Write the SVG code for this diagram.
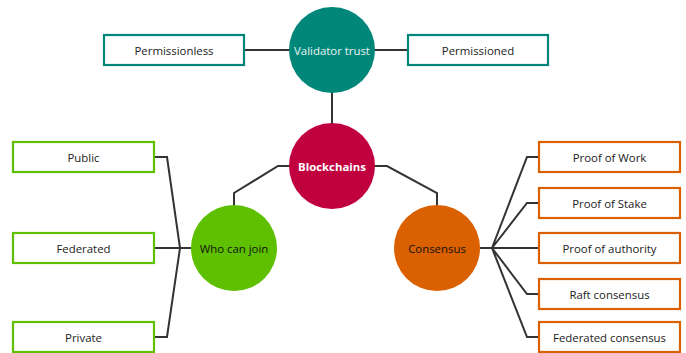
<svg xmlns="http://www.w3.org/2000/svg" width="686" height="353" viewBox="0 0 686 353">
<style>
text{font-family:"Open Sans","Noto Sans","DejaVu Sans",sans-serif;font-size:11.4px;text-anchor:middle;dominant-baseline:central;fill:#222}
.box{fill:#fff;stroke-width:2.2}
.teal{stroke:#00877A}
.green{stroke:#5EC000}
.orange{stroke:#DA6000}
.conn{fill:none;stroke:#333;stroke-width:2;stroke-linejoin:miter}
</style>
<rect width="686" height="353" fill="#fff"/>
<g id="connectors">
<path class="conn" d="M244,50H290M374,50H408"/>
<path class="conn" d="M332,92V124"/>
<path class="conn" d="M290,166H278L234,193V206"/>
<path class="conn" d="M374,166H387L437,193V206"/>
<path class="conn" d="M154,157H167L180,248M154,248H192M154,337H167L180,248"/>
<path class="conn" d="M480,248H492M492,248L527,157H539M492,248L527,203H539M492,248H539M492,248L527,294H539M492,248L527,337H539"/>
</g>
<g id="validator-trust"><circle cx="332" cy="50" r="43" fill="#00877A"/><text x="332" y="50" style="fill:#e8f4f2">Validator trust</text></g>
<g id="permissionless"><rect class="box teal" x="104" y="35" width="140" height="30"/><text x="174" y="50">Permissionless</text></g>
<g id="permissioned"><rect class="box teal" x="408" y="35" width="140" height="30"/><text x="478" y="50">Permissioned</text></g>
<g id="blockchains"><circle cx="332" cy="166" r="43" fill="#C1003F"/><text x="332" y="166" style="fill:#fff;font-weight:bold">Blockchains</text></g>
<g id="who-can-join"><circle cx="234" cy="248" r="43" fill="#5EC000"/><text x="234" y="248" style="fill:#111">Who can join</text></g>
<g id="consensus"><circle cx="437" cy="248" r="43" fill="#DA6000"/><text x="437" y="248" style="fill:#111">Consensus</text></g>
<g id="public"><rect class="box green" x="13" y="142" width="141" height="30"/><text x="83.5" y="157">Public</text></g>
<g id="federated"><rect class="box green" x="13" y="233" width="141" height="30"/><text x="83.5" y="248">Federated</text></g>
<g id="private"><rect class="box green" x="13" y="322" width="141" height="30"/><text x="83.5" y="337">Private</text></g>
<g id="proof-of-work"><rect class="box orange" x="539" y="142" width="141" height="30"/><text x="609.5" y="157">Proof of Work</text></g>
<g id="proof-of-stake"><rect class="box orange" x="539" y="188" width="141" height="30"/><text x="609.5" y="203">Proof of Stake</text></g>
<g id="proof-of-authority"><rect class="box orange" x="539" y="233" width="141" height="30"/><text x="609.5" y="248">Proof of authority</text></g>
<g id="raft-consensus"><rect class="box orange" x="539" y="279" width="141" height="30"/><text x="609.5" y="294">Raft consensus</text></g>
<g id="federated-consensus"><rect class="box orange" x="539" y="322" width="141" height="30"/><text x="609.5" y="337">Federated consensus</text></g>
</svg>
